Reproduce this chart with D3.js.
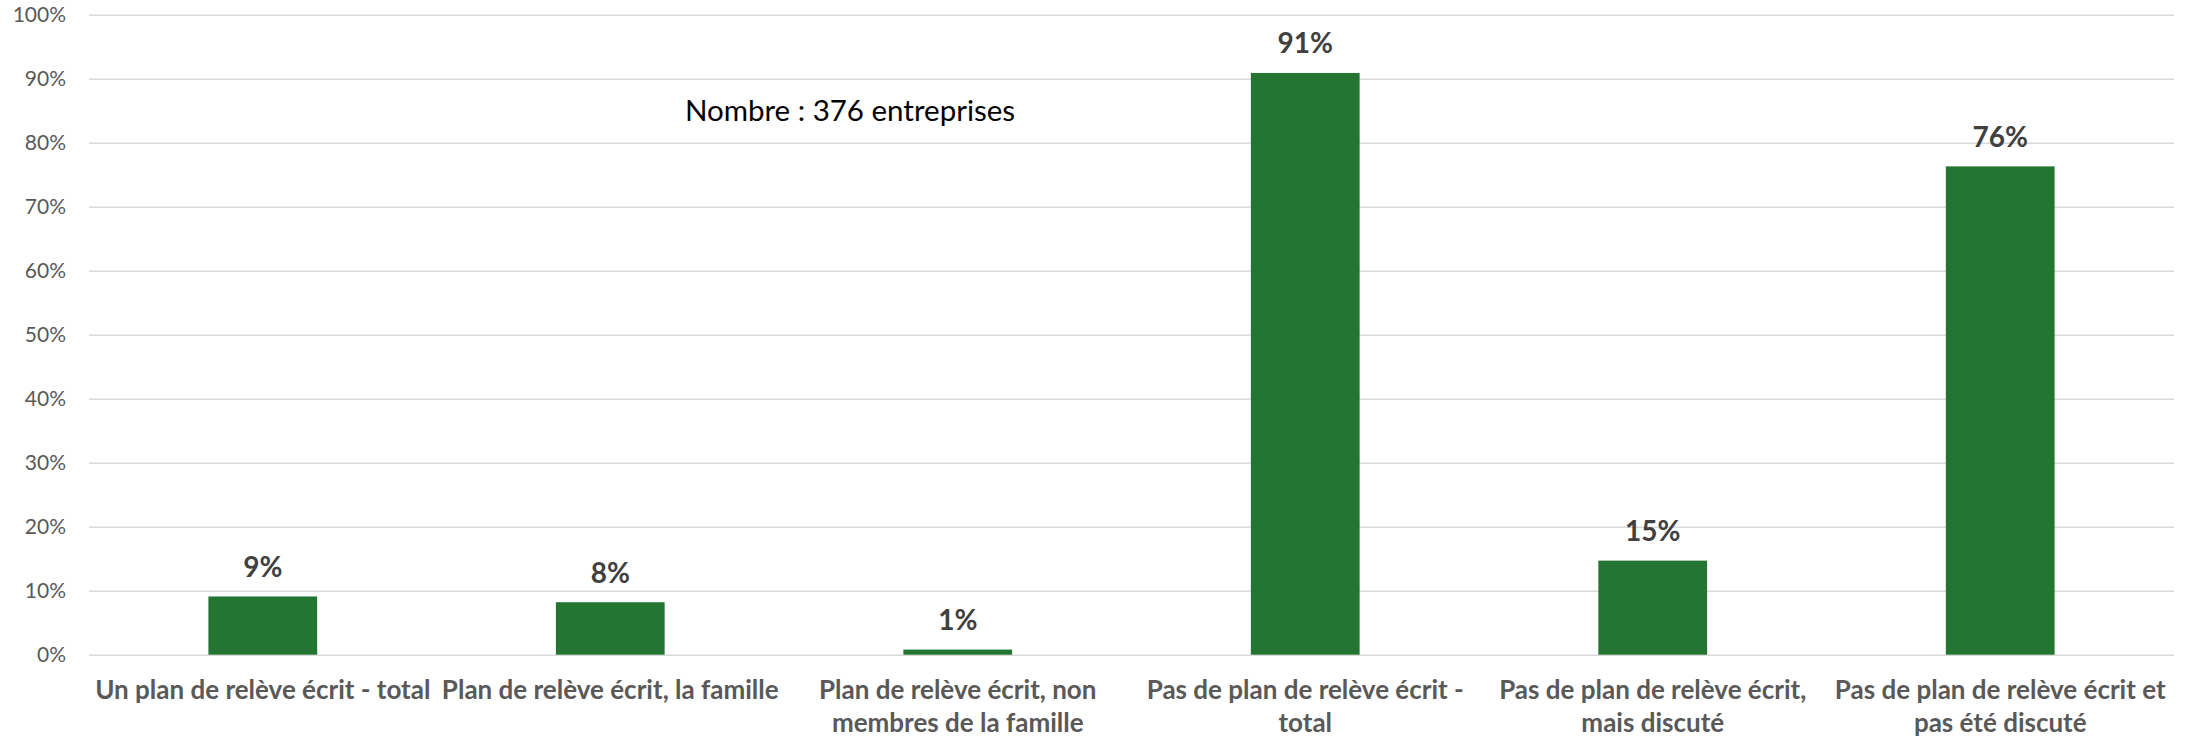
<!DOCTYPE html>
<html>
<head lang="fr">
    <meta charset="UTF-8">
    <title>Plan de relève</title>
    <script src="https://cdnjs.cloudflare.com/ajax/libs/d3/7.8.5/d3.min.js"></script>
    <style>
        body{margin:0;background:#fff;}
        .grid line{stroke:#d9d9d9;stroke-width:1.6px;}
        .grid .domain{display:none;}
        .ytick text{fill:#595959;font-family:Lato,sans-serif;font-size:21px;}
        .xlab{fill:#595959;font-family:Lato,sans-serif;font-weight:bold;font-size:26px;}
        .val{fill:#404040;font-family:Lato,sans-serif;font-weight:bold;font-size:28px;}
        .bar{fill:#247532;}
    </style>
</head>
<body>
<div id="chart"></div>
<script>
    // categories (already split in lines like the original axis)
    var categories=[
        ['Un plan de relève écrit - total'],
        ['Plan de relève écrit, la famille'],
        ['Plan de relève écrit, non','membres de la famille'],
        ['Pas de plan de relève écrit -','total'],
        ['Pas de plan de relève écrit,','mais discuté'],
        ['Pas de plan de relève écrit et','pas été discuté']
    ];
    var values=[0.091,0.082,0.008,0.909,0.147,0.763];
    var yticks=[0,0.1,0.2,0.3,0.4,0.5,0.6,0.7,0.8,0.9,1];
    var note='Nombre : 376 entreprises';

    var width=2188,height=738;
    var margin={left:89,right:14,top:14.7,bottom:83.3};

    var svg=d3.select('#chart').append('svg')
            .attr('width',width)
            .attr('height',height);

    var x=d3.scaleBand()
            .domain(d3.range(categories.length))
            .range([margin.left,width-margin.right])
            .paddingInner(0.687)
            .paddingOuter(0.3436);
    var y=d3.scaleLinear()
            .domain([0,1])
            .range([height-margin.bottom,margin.top]);

    // gridlines
    svg.append('g')
            .attr('class','grid')
            .attr('transform','translate('+margin.left+',0)')
            .call(d3.axisLeft(y).tickValues(yticks)
                .tickSize(-(width-margin.left-margin.right))
                .tickFormat(''));

    // y tick labels
    svg.append('g').attr('class','ytick')
            .selectAll('text')
            .data(yticks)
            .enter()
            .append('text')
            .attr('x',66)
            .attr('y',function(d){return y(d)})
            .attr('dy','0.36em')
            .attr('text-anchor','end')
            .text(d3.format('.0%'));

    // bars
    svg.selectAll('.bar')
            .data(values)
            .enter()
            .append('rect')
            .attr('class','bar')
            .attr('x',function(d,i){return x(i)})
            .attr('width',x.bandwidth())
            .attr('y',function(d){return y(d)})
            .attr('height',function(d){return y(0)-y(d)});

    // value labels
    svg.selectAll('.val')
            .data(values)
            .enter()
            .append('text')
            .attr('class','val')
            .attr('x',function(d,i){return x(i)+x.bandwidth()/2})
            .attr('y',function(d){return y(d)-19.5})
            .attr('text-anchor','middle')
            .text(function(d){return Math.round(d*100)+'%'});

    // category labels
    var cx=svg.selectAll('.xlab')
            .data(categories)
            .enter()
            .append('text')
            .attr('class','xlab')
            .attr('text-anchor','middle')
            .attr('transform',function(d,i){
                return 'translate('+(x(i)+x.bandwidth()/2)+','+(y(0)+44)+')'
            });
    cx.selectAll('tspan')
            .data(function(d){return d})
            .enter()
            .append('tspan')
            .attr('x',0)
            .attr('y',function(d,i){return i*33})
            .text(function(d){return d});

    // note
    svg.append('text')
            .attr('x',850)
            .attr('y',121)
            .attr('text-anchor','middle')
            .style('font-family','Lato,sans-serif')
            .style('font-size','29.5px')
            .style('fill','#000')
            .text(note);
</script>
</body>
</html>
